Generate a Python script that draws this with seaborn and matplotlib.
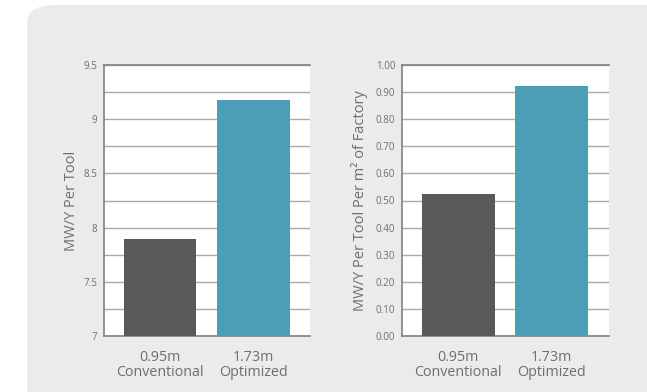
import numpy as np
import pandas as pd
import seaborn as sns
import matplotlib.pyplot as plt
from matplotlib.patches import FancyBboxPatch

# data
categories = ['0.95m\nConventional', '1.73m\nOptimized']
mw_per_tool = [7.89, 9.18]
mw_per_tool_m2 = [0.523, 0.923]
bar_colors = ['#58595b', '#4c9db8']

left_ticks = [7, 7.25, 7.5, 7.75, 8, 8.25, 8.5, 8.75, 9, 9.25, 9.5]
left_labels = ['7', '', '7.5', '', '8', '', '8.5', '', '9', '', '9.5']
right_ticks = [0.0, 0.1, 0.2, 0.3, 0.4, 0.5, 0.6, 0.7, 0.8, 0.9, 1.0]
right_labels = ['0.00', '0.10', '0.20', '0.30', '0.40', '0.50', '0.60', '0.70', '0.80', '0.90', '1.00']

sns.set_style('white')
plt.rcParams['font.family'] = ['Open Sans', 'DejaVu Sans']

txt = '#6d6e70'
W, H = 647, 392
fig = plt.figure(figsize=(W / 100, H / 100), dpi=100)
fig.patch.set_facecolor('white')

# rounded gray panel behind everything
panel = FancyBboxPatch((27 / W, -0.2), 1.2, (H - 5) / H + 0.2,
                       boxstyle='round,pad=0,rounding_size=0.045',
                       transform=fig.transFigure, facecolor='#ebebeb',
                       edgecolor='none', zorder=-10)
fig.patches.append(panel)

def make_axes(x0, x1):
    y0, y1 = 65.3, 335.7
    return fig.add_axes([x0 / W, 1 - y1 / H, (x1 - x0) / W, (y1 - y0) / H])

ax1 = make_axes(104.3, 310)
ax2 = make_axes(402.3, 608.7)

df1 = pd.DataFrame({'cat': categories, 'val': mw_per_tool})
df2 = pd.DataFrame({'cat': categories, 'val': mw_per_tool_m2})

for ax, df, ticks, labels, lab, lpad in [
    (ax1, df1, left_ticks, left_labels, 'MW/Y Per Tool', 3),
    (ax2, df2, right_ticks, right_labels, 'MW/Y Per Tool Per m² of Factory', 6),
]:
    ax.set_facecolor('white')
    ax.set_axisbelow(True)
    sns.barplot(data=df, x='cat', y='val', hue='cat', palette=bar_colors,
                width=0.78, legend=False, ax=ax, saturation=1, zorder=3,
                linewidth=0)
    ax.set_xlim(-0.6, 1.61)
    ax.set_ylim(ticks[0], ticks[-1])
    ax.set_yticks(ticks)
    ax.set_yticklabels(labels, fontsize=7, color=txt)
    ax.set_xticks(range(len(df)))
    ax.set_xticklabels(categories, fontsize=10.3, color=txt, linespacing=1.0)
    ax.tick_params(axis='x', length=0, pad=10)
    ax.tick_params(axis='y', length=0, pad=5)
    ax.yaxis.grid(True, color='#a7a9ac', linewidth=1)
    ax.set_ylabel(lab, fontsize=10.5, color=txt, labelpad=lpad)
    ax.set_xlabel('')
    for s in ['left', 'top', 'bottom']:
        ax.spines[s].set_visible(True)
        ax.spines[s].set_color('#808285')
        ax.spines[s].set_linewidth(1.2)
    ax.spines['right'].set_visible(False)

fig.savefig('out.png', dpi=100)
